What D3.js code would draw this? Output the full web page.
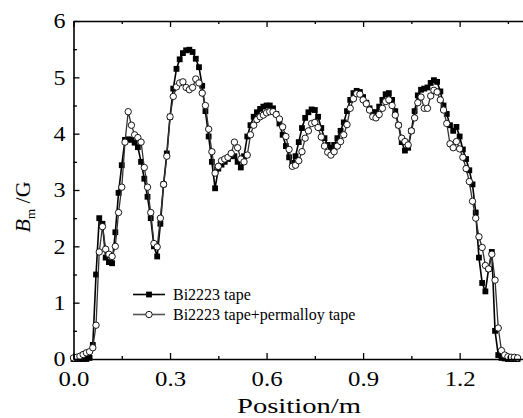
<!DOCTYPE html>
<html>
<head>
<meta charset="utf-8">
<script src="https://cdn.jsdelivr.net/npm/d3@7"></script>
<style>
  html, body { margin: 0; padding: 0; background: #fff; }
  svg { display: block; }
  text { font-family: "Times New Roman", "Liberation Serif", Times, serif; fill: #000; }
</style>
</head>
<body>
<svg id="chart" width="523" height="418"></svg>
<script>
// ---- data ----
const positions = [0.00,0.01,0.02,0.03,0.04,0.05,0.06,0.07,0.08,0.09,
  0.10,0.11,0.12,0.13,0.14,0.15,0.16,0.17,0.18,0.19,
  0.20,0.21,0.22,0.23,0.24,0.25,0.26,0.27,0.28,0.29,
  0.30,0.31,0.32,0.33,0.34,0.35,0.36,0.37,0.38,0.39,
  0.40,0.41,0.42,0.43,0.44,0.45,0.46,0.47,0.48,0.49,
  0.50,0.51,0.52,0.53,0.54,0.55,0.56,0.57,0.58,0.59,
  0.60,0.61,0.62,0.63,0.64,0.65,0.66,0.67,0.68,0.69,
  0.70,0.71,0.72,0.73,0.74,0.75,0.76,0.77,0.78,0.79,
  0.80,0.81,0.82,0.83,0.84,0.85,0.86,0.87,0.88,0.89,
  0.90,0.91,0.92,0.93,0.94,0.95,0.96,0.97,0.98,0.99,
  1.00,1.01,1.02,1.03,1.04,1.05,1.06,1.07,1.08,1.09,
  1.10,1.11,1.12,1.13,1.14,1.15,1.16,1.17,1.18,1.19,
  1.20,1.21,1.22,1.23,1.24,1.25,1.26,1.27,1.28,1.29,
  1.30,1.31,1.32,1.33,1.34,1.35,1.36,1.37,1.38];

const bi2223Tape = [0,0,0,0,0,0.02,0.25,1.5,2.5,2.4,
  1.8,1.72,1.7,2.25,2.95,3.44,3.89,3.9,3.89,3.84,
  3.76,3.5,3.2,2.88,2.5,2.0,1.82,2.4,3.1,3.65,
  4.3,4.8,5.15,5.32,5.43,5.48,5.49,5.45,5.33,5.18,
  4.85,4.4,3.95,3.5,3.03,3.38,3.45,3.5,3.55,3.6,
  3.6,3.5,3.4,3.6,3.95,4.15,4.3,4.38,4.44,4.48,
  4.5,4.5,4.45,4.35,4.18,3.98,3.78,3.58,3.48,3.6,
  3.85,4.1,4.28,4.38,4.43,4.42,4.3,4.1,3.92,3.8,
  3.75,3.8,3.92,4.05,4.2,4.4,4.6,4.72,4.76,4.74,
  4.65,4.55,4.45,4.38,4.38,4.48,4.6,4.7,4.72,4.6,
  4.4,4.15,3.85,3.7,3.75,4.05,4.4,4.68,4.78,4.8,
  4.82,4.9,4.95,4.92,4.75,4.5,4.35,4.15,4.05,4.12,
  3.95,3.72,3.55,3.35,3.1,2.6,1.8,1.35,1.2,1.6,
  1.9,0.5,0.07,0.02,0.01,0,0,0,0];

const bi2223Permalloy = [0.02,0.03,0.05,0.08,0.11,0.13,0.2,0.6,1.9,2.35,
  1.95,1.86,1.82,2.0,2.6,3.05,3.85,4.39,4.15,3.98,
  3.93,3.85,3.4,3.05,2.6,2.05,1.99,2.5,3.1,3.6,
  4.3,4.66,4.83,4.9,4.92,4.82,4.78,4.82,4.97,4.9,
  4.72,4.5,4.08,3.68,3.3,3.42,3.52,3.55,3.58,3.65,
  3.85,3.75,3.55,3.5,3.62,3.98,4.15,4.25,4.3,4.33,
  4.37,4.39,4.39,4.34,4.26,4.12,3.95,3.72,3.42,3.44,
  3.52,3.68,3.92,4.05,4.18,4.2,4.11,3.94,3.78,3.67,
  3.62,3.68,3.78,3.86,3.98,4.16,4.45,4.62,4.71,4.7,
  4.6,4.53,4.42,4.3,4.28,4.34,4.45,4.57,4.6,4.5,
  4.33,4.15,3.92,3.86,3.8,4.05,4.28,4.55,4.65,4.45,
  4.45,4.67,4.77,4.74,4.6,4.42,4.18,3.82,3.75,3.86,
  3.73,3.58,3.38,3.15,2.8,2.5,2.17,1.98,1.66,1.6,
  1.86,1.4,0.55,0.15,0.07,0.04,0.03,0.03,0.02];

const seriesNames = ["Bi2223 tape", "Bi2223 tape+permalloy tape"];
const xMajorTicks = [0, 0.3, 0.6, 0.9, 1.2];
const xMinorTicks = [0.15, 0.45, 0.75, 1.05, 1.35];
const yMajorTicks = [0, 1, 2, 3, 4, 5, 6];
const yMinorTicks = [0.5, 1.5, 2.5, 3.5, 4.5, 5.5];

// ---- drawing ----
const FONT = "'Times New Roman', 'Liberation Serif', Times, serif";
const svg = d3.select("#chart");
const x = d3.scaleLinear().domain([0, 1.4]).range([73.5, 524]);
const y = d3.scaleLinear().domain([0, 6]).range([359, 21]);

const s1 = positions.map((p, i) => ({x: p, y: bi2223Tape[i]}));
const s2 = positions.map((p, i) => ({x: p, y: bi2223Permalloy[i]}));

const line = d3.line().x(d => x(d.x)).y(d => y(d.y));

// series 1 (squares)
svg.append("path").datum(s1).attr("d", line)
  .attr("fill", "none").attr("stroke", "#000").attr("stroke-width", 1.6);
svg.append("g").selectAll("rect").data(s1).join("rect")
  .attr("x", d => x(d.x) - 2.9).attr("y", d => y(d.y) - 2.9)
  .attr("width", 5.8).attr("height", 5.8).attr("fill", "#000");

// series 2 (open circles)
svg.append("path").datum(s2).attr("d", line)
  .attr("fill", "none").attr("stroke", "#333").attr("stroke-width", 1.3);
svg.append("g").selectAll("circle").data(s2).join("circle")
  .attr("cx", d => x(d.x)).attr("cy", d => y(d.y)).attr("r", 3.2)
  .attr("fill", "#fff").attr("stroke", "#000").attr("stroke-width", 0.9);

// axes
function styleAxis(g) {
  g.attr("font-family", FONT);
  g.selectAll("path.domain").attr("stroke", "#000").attr("stroke-width", 1.6);
  g.selectAll(".tick line").attr("stroke", "#000").attr("stroke-width", 1.3);
}
const xAxis = svg.append("g").attr("transform", "translate(0,359)")
  .call(d3.axisBottom(x).tickValues(xMajorTicks).tickSize(-6).tickSizeOuter(0)
    .tickPadding(12).tickFormat(d3.format(".1f")));
styleAxis(xAxis);
xAxis.selectAll("text").attr("font-size", 21).attr("font-family", FONT)
  .attr("textLength", 31).attr("lengthAdjust", "spacingAndGlyphs");
svg.append("g").attr("transform", "translate(0,359)")
  .call(d3.axisBottom(x).tickValues(xMinorTicks).tickSize(-3).tickSizeOuter(0).tickFormat(""))
  .call(g => { g.select("path.domain").remove(); styleAxis(g); });

const xTop = svg.append("g").attr("transform", "translate(0,21)")
  .call(d3.axisTop(x).tickValues(xMajorTicks).tickSize(-6).tickSizeOuter(0).tickFormat(""));
styleAxis(xTop);
svg.append("g").attr("transform", "translate(0,21)")
  .call(d3.axisTop(x).tickValues(xMinorTicks).tickSize(-3).tickSizeOuter(0).tickFormat(""))
  .call(g => { g.select("path.domain").remove(); styleAxis(g); });

const yAxis = svg.append("g").attr("transform", "translate(73.5,0)")
  .call(d3.axisLeft(y).tickValues(yMajorTicks).tickSize(-6).tickSizeOuter(0)
    .tickPadding(8).tickFormat(d3.format("d")));
styleAxis(yAxis);
yAxis.selectAll("text").attr("font-size", 21).attr("font-family", FONT)
  .attr("textLength", 12).attr("lengthAdjust", "spacingAndGlyphs");
svg.append("g").attr("transform", "translate(73.5,0)")
  .call(d3.axisLeft(y).tickValues(yMinorTicks).tickSize(-3.5).tickSizeOuter(0).tickFormat(""))
  .call(g => { g.select("path.domain").remove(); styleAxis(g); });

// axis titles
svg.append("text").attr("x", 299).attr("y", 413).attr("text-anchor", "middle")
  .attr("font-size", 22).attr("textLength", 124).attr("lengthAdjust", "spacingAndGlyphs")
  .text("Position/m");

const yt = svg.append("text").attr("transform", "translate(30,207) rotate(-90)")
  .attr("text-anchor", "middle").attr("font-size", 22);
yt.append("tspan").attr("font-style", "italic").text("B");
yt.append("tspan").attr("font-size", 13).attr("dy", 5).text("m");
yt.append("tspan").attr("dy", -5).text(" /G");

// legend
const legendY = [294.5, 314.5];
const lg = svg.append("g");
lg.append("line").attr("x1", 133).attr("x2", 165).attr("y1", legendY[0]).attr("y2", legendY[0])
  .attr("stroke", "#000").attr("stroke-width", 1.6);
lg.append("rect").attr("x", 149 - 2.9).attr("y", legendY[0] - 2.9).attr("width", 5.8).attr("height", 5.8).attr("fill", "#000");
lg.append("line").attr("x1", 133).attr("x2", 165).attr("y1", legendY[1]).attr("y2", legendY[1])
  .attr("stroke", "#555").attr("stroke-width", 1.6);
lg.append("circle").attr("cx", 149).attr("cy", legendY[1]).attr("r", 3.2)
  .attr("fill", "#fff").attr("stroke", "#000").attr("stroke-width", 0.9);
seriesNames.forEach((n, i) => {
  lg.append("text").attr("x", 173).attr("y", legendY[i] + 5.5).attr("font-size", 16).text(n);
});
</script>
</body>
</html>
